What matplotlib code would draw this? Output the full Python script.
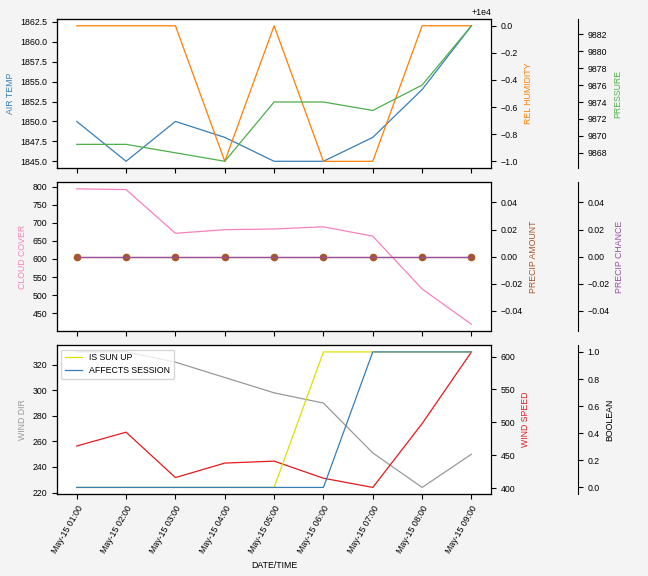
import numpy as np
import pandas as pd
import matplotlib
matplotlib.use("Agg")
import matplotlib.pyplot as plt
import matplotlib.dates as mdates
from matplotlib.ticker import MultipleLocator

plt.rcParams['font.size'] = 6.3
plt.rcParams['font.family'] = ['Liberation Sans', 'DejaVu Sans']

# hourly readings
times = pd.date_range("2024-05-15 01:00", periods=9, freq="h")

air_temp = [1850, 1845, 1850, 1848, 1845, 1845, 1848, 1854, 1862]
rel_humidity = [10000, 10000, 10000, 9999, 10000, 9999, 9999, 10000, 10000]
pressure = [9869, 9869, 9868, 9867, 9874, 9874, 9873, 9876, 9883]

cloud_cover = [794, 792, 671, 681, 683, 689, 663, 517, 419]
precip_amount = [0, 0, 0, 0, 0, 0, 0, 0, 0]
precip_chance = [0, 0, 0, 0, 0, 0, 0, 0, 0]

wind_dir = [330, 330, 322, 310, 298, 290, 251, 224, 250]
wind_speed = [464, 485, 416, 438, 441, 415, 401, 498, 607]
is_sun_up = [0, 0, 0, 0, 0, 1, 1, 1, 1]
affects_session = [0, 0, 0, 0, 0, 0, 1, 1, 1]

c_blue = '#377eb8'
c_orange = '#ff7f00'
c_green = '#4daf4a'
c_pink = '#f781bf'
c_brown = '#a65628'
c_purple = '#984ea3'
c_grey = '#999999'
c_red = '#e41a1c'
c_yellow = '#e0e000'

lw = 0.9

fig, axes = plt.subplots(3, 1, figsize=(6.48, 5.76), dpi=100, sharex=True)
fig.patch.set_facecolor('#f4f4f4')
fig.subplots_adjust(left=0.088, right=0.758, top=0.967, bottom=0.142, hspace=0.094)


def add_twins(ax):
    t1 = ax.twinx()
    t2 = ax.twinx()
    t2.spines['right'].set_position(('axes', 1.2))
    return t1, t2


# ---- top panel
ax = axes[0]
t1, t2 = add_twins(ax)
ax.plot(times, air_temp, color=c_blue, lw=lw)
t1.plot(times, rel_humidity, color=c_orange, lw=lw)
t2.plot(times, pressure, color=c_green, lw=lw)
ax.set_ylabel("AIR TEMP", color=c_blue)
t1.set_ylabel("REL HUMIDITY", color=c_orange)
t2.set_ylabel("PRESSURE", color=c_green)
ax.yaxis.set_major_locator(MultipleLocator(2.5))
t1.yaxis.set_major_locator(MultipleLocator(0.2))
t2.yaxis.set_major_locator(MultipleLocator(2))

# ---- middle panel
ax = axes[1]
t1, t2 = add_twins(ax)
ax.plot(times, cloud_cover, color=c_pink, lw=lw)
t1.plot(times, precip_amount, color=c_brown, lw=lw, marker='o', markersize=4.5)
t2.plot(times, precip_chance, color=c_purple, lw=lw)
ax.set_ylabel("CLOUD COVER", color=c_pink)
t1.set_ylabel("PRECIP AMOUNT", color=c_brown)
t2.set_ylabel("PRECIP CHANCE", color=c_purple)
ax.yaxis.set_major_locator(MultipleLocator(50))

# ---- bottom panel
ax = axes[2]
t1, t2 = add_twins(ax)
ax.plot(times, wind_dir, color=c_grey, lw=lw)
t1.plot(times, wind_speed, color=c_red, lw=lw)
t2.plot(times, is_sun_up, color=c_yellow, lw=lw, label="IS SUN UP")
t2.plot(times, affects_session, color=c_blue, lw=lw, label="AFFECTS SESSION")
ax.set_ylabel("WIND DIR", color=c_grey)
t1.set_ylabel("WIND SPEED", color=c_red)
t2.set_ylabel("BOOLEAN", color='black')
ax.yaxis.set_major_locator(MultipleLocator(20))
t1.yaxis.set_major_locator(MultipleLocator(50))
t2.yaxis.set_major_locator(MultipleLocator(0.2))
t2.legend(loc='upper left', fontsize=6.3)

ax.set_xticks(times)
ax.xaxis.set_major_formatter(mdates.DateFormatter('%b-%d %H:%M'))
plt.setp(ax.get_xticklabels(), rotation=60, ha='right', rotation_mode='anchor')
ax.set_xlabel("DATE/TIME")

fig.savefig("out.png", dpi=100, facecolor=fig.get_facecolor())
